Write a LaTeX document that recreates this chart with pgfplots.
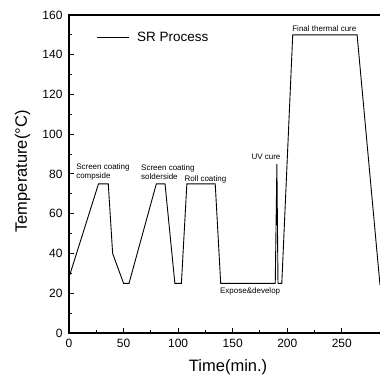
\documentclass[border=0pt]{standalone}
\usepackage{fontspec}
\setmainfont{Liberation Sans}
\usepackage{pgfplots}
\pgfplotsset{compat=1.18}
\begin{document}
\begin{tikzpicture}
\begin{axis}[
  scale only axis,
  width=313.2bp, height=318bp,
  xmin=0, xmax=287, ymin=0, ymax=160,
  xtick={0,50,100,150,200,250},
  ytick={0,20,40,60,80,100,120,140,160},
  minor x tick num=1, minor y tick num=1,
  xtick pos=bottom, ytick pos=left,
  tick align=inside,
  major tick length=5bp, minor tick length=3bp,
  axis line style={line width=1.4bp},
  every tick/.style={line width=1bp, black},
  /pgf/number format/assume math mode=true,
  ticklabel style={font=\fontsize{12bp}{14bp}\selectfont},
  xticklabel style={yshift=-3bp},
  yticklabel style={xshift=-3bp},
  xlabel={Time(min.)}, ylabel={Temperature(°C)},
  label style={font=\fontsize{16.5bp}{19bp}\selectfont},
  xlabel style={at={(axis description cs:0.508,-0.108)}, anchor=center},
  ylabel style={at={(axis description cs:-0.148,0.508)}, anchor=center},
  legend style={draw=none, fill=none, at={(axis description cs:0.086,0.928)}, anchor=west, inner sep=0pt,
    font=\fontsize{13.5bp}{16bp}\selectfont},
  legend cell align=left,
  legend image code/.code={\draw[#1] (0bp,0bp) -- (32bp,0bp);},
]
\addplot[black, line width=0.9bp] coordinates {
 (0,28) (27,75) (36,75) (40,40) (50,25) (55,25) (80,75) (88,75) (97,25) (103,25)
 (108,75) (134,75) (139,25) (189,25) (190.5,85) (191.5,25) (195,25) (205,150)
 (264,150) (285,24)
};
\addlegendentry{\hspace{6bp}SR Process}
\begin{scope}[every node/.style={font=\fontsize{8bp}{9.5bp}\selectfont, inner sep=0pt, align=left}]
\node[anchor=west] at (axis cs:6.5,81) {Screen coating\\compside};
\node[anchor=west] at (axis cs:66,81) {Screen coating\\solderside};
\node[anchor=center] at (axis cs:125,77.4) {Roll coating};
\node[anchor=center] at (axis cs:180.5,88.5) {UV cure};
\node[anchor=center] at (axis cs:166,20.8) {Expose\&develop};
\node[anchor=center] at (axis cs:234,153) {Final thermal cure};
\end{scope}
\end{axis}
\pgfresetboundingbox
\path ([xshift=-69bp,yshift=-45bp]current axis.south west) rectangle ++(380bp,378bp);
\end{tikzpicture}
\end{document}
